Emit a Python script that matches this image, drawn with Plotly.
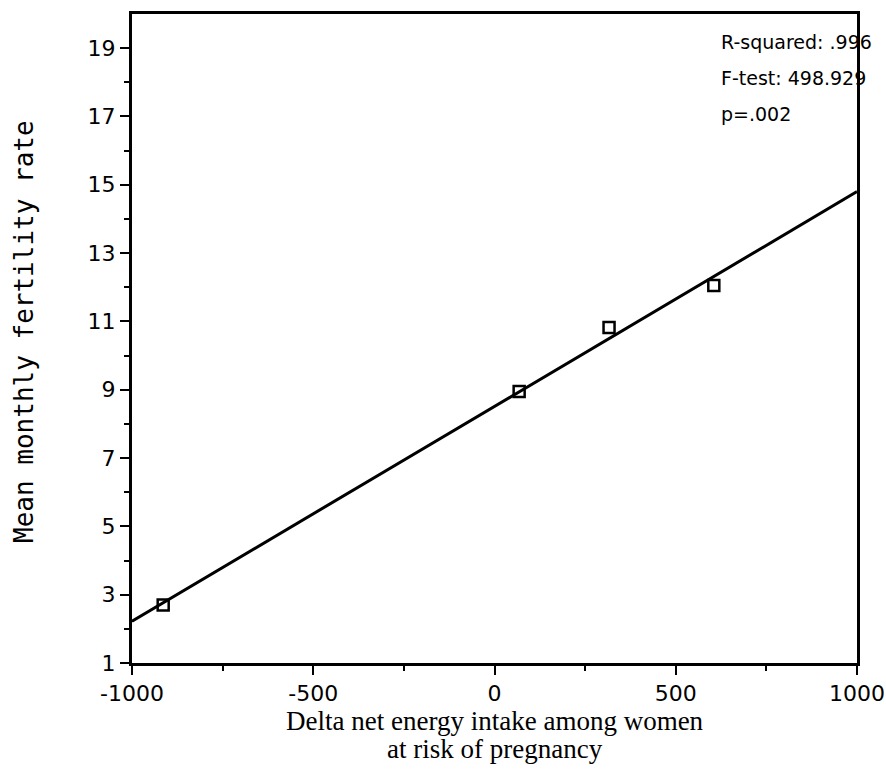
import numpy as np
import plotly.graph_objects as go

# Data
energy_delta = [-914, 68, 316, 605]
fertility_rate = [2.7, 8.95, 10.82, 12.05]

x_ticks = [-1000, -500, 0, 500, 1000]
x_tick_labels = ["-1000", "-500", "0", "500", "1000"]
x_minor = [-750, -250, 250, 750]
y_ticks = [1, 3, 5, 7, 9, 11, 13, 15, 17, 19]
y_minor = [2, 4, 6, 8, 10, 12, 14, 16, 18]

stats_lines = ["R-squared: .996", "F-test: 498.929", "p=.002"]

x_title_lines = ["Delta net energy intake among women", "at risk of pregnancy"]
y_title = "Mean monthly fertility rate"

# Least-squares regression line over the full x range
slope, intercept = np.polyfit(energy_delta, fertility_rate, 1)
fit_x = np.array([x_ticks[0], x_ticks[-1]])
fit_y = slope * fit_x + intercept

fig = go.Figure()
fig.add_trace(go.Scatter(x=fit_x, y=fit_y, mode="lines",
                         line=dict(color="black", width=3), showlegend=False))
fig.add_trace(go.Scatter(x=energy_delta, y=fertility_rate, mode="markers",
                         marker=dict(symbol="square-open", size=11, color="black",
                                     line=dict(width=2.5, color="black")),
                         showlegend=False))

sans = "DejaVu Sans"
L, R, T, B = 132, 29, 14, 118
W, H = 886, 781
pw, ph = W - L - R, H - T - B

fig.update_layout(
    width=W, height=H,
    margin=dict(l=L, r=R, t=T, b=B),
    paper_bgcolor="white", plot_bgcolor="white",
    xaxis=dict(range=[-1000, 1000], tickvals=x_ticks, ticktext=x_tick_labels,
               automargin=False,
               ticks="outside", ticklen=9, tickwidth=2, tickcolor="black",
               showline=True, linecolor="black", linewidth=3, mirror=True,
               showgrid=False, zeroline=False,
               tickfont=dict(family=sans, size=22, color="black"),
               minor=dict(tickvals=x_minor, ticks="outside",
                          ticklen=5, tickwidth=2, tickcolor="black", showgrid=False)),
    yaxis=dict(range=[1, 20], tickvals=y_ticks, automargin=False,
               ticks="outside", ticklen=9, tickwidth=2, tickcolor="black",
               showline=True, linecolor="black", linewidth=3, mirror=True,
               showgrid=False, zeroline=False,
               tickfont=dict(family=sans, size=22, color="black"),
               minor=dict(tickvals=y_minor, ticks="outside",
                          ticklen=5, tickwidth=2, tickcolor="black", showgrid=False)),
)


def px_x(p):
    return (p - L) / pw


def px_y(p):
    return 1 - (p - T) / ph


for i, t in enumerate(stats_lines):
    fig.add_annotation(x=px_x(719), y=px_y(42 + 36 * i), xref="paper", yref="paper",
                       text=t, showarrow=False, xanchor="left", yanchor="middle",
                       font=dict(family=sans, size=19, color="black"))

for i, t in enumerate(x_title_lines):
    fig.add_annotation(x=px_x(495), y=px_y(721 + 28 * i), xref="paper", yref="paper",
                       text=t, showarrow=False, xanchor="center", yanchor="middle",
                       font=dict(family="Liberation Serif", size=27, color="black"))

fig.add_annotation(x=px_x(24), y=px_y(332), xref="paper", yref="paper",
                   text=y_title, showarrow=False, textangle=-90,
                   xanchor="center", yanchor="middle",
                   font=dict(family="DejaVu Sans Mono", size=26, color="black"))

fig.write_html("out.html")
